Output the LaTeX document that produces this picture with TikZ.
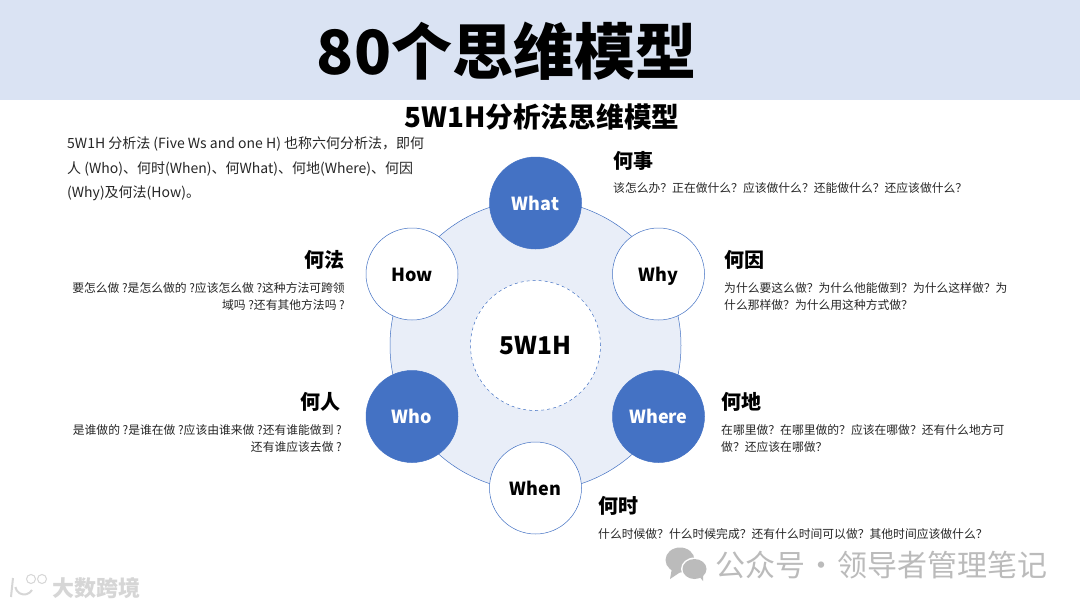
\documentclass[tikz,border=0pt]{standalone}
\usepackage{fontspec}
\setmainfont{Noto Sans CJK SC}
\newcommand{\wideq}{\char"FF1F\relax}
\newcommand{\widec}{\char"FF0C\relax}
\definecolor{bandblue}{HTML}{DAE3F3}
\definecolor{ringblue}{HTML}{E9EEF8}
\definecolor{mainblue}{HTML}{4472C4}
\definecolor{marktext}{HTML}{BBBBBB}
\definecolor{bodytext}{HTML}{262626}
\tikzset{
  spoke/.style={circle,minimum size=92pt,inner sep=0pt,draw=mainblue,line width=0.5pt,text height=14pt,text depth=0pt,font=\fontsize{18}{20}\selectfont\bfseries},
  fullspoke/.style={spoke,fill=mainblue,text=white},
  openspoke/.style={spoke,fill=white,text=black},
  headtext/.style={inner sep=0pt,font=\fontsize{20}{24}\selectfont\bfseries},
  smalltext/.style={inner sep=0pt,text=bodytext,font=\fontsize{11.8}{17}\selectfont},
}
\begin{document}
\begin{tikzpicture}[x=1pt,y=-1pt]
  \useasboundingbox (0,0) rectangle (1080,608);
  \fill[white] (0,0) rectangle (1080,608);
  \fill[bandblue] (0,0) rectangle (1080,100);
  \node[inner sep=0pt,font=\fontsize{61}{70}\selectfont\bfseries] (title) at (506.5,51) {80个思维模型};
  \node[inner sep=0pt,font=\fontsize{27.7}{32}\selectfont\bfseries] (subtitle) at (542,117) {5W1H分析法思维模型};
  \node[inner sep=0pt,anchor=north west,align=left,text=bodytext,font=\fontsize{14}{24.5}\selectfont] (intro) at (67,137)
    {5W1H 分析法 (Five Ws and one H) 也称六何分析法\widec 即何\\人 (Who)、何时(When)、何What)、何地(Where)、何因\\(Why)及何法(How)。};
  % ring and middle
  \node[circle,minimum size=291pt,inner sep=0pt,fill=ringblue,draw=mainblue,line width=0.5pt] (ring) at (535.5,345.5) {};
  \node[circle,minimum size=130pt,inner sep=0pt,fill=white,draw=mainblue,line width=0.5pt,dashed,
    font=\fontsize{24.5}{28}\selectfont\bfseries] (core) at (535.5,345.5) {5W1H};
  \node[fullspoke] (what) at (535.5,203) {What};
  \node[openspoke] (why) at (658.5,274) {Why};
  \node[fullspoke] (where) at (658.5,416.5) {Where};
  \node[openspoke] (when) at (535.5,488) {When};
  \node[fullspoke] (who) at (412,416.5) {Who};
  \node[openspoke] (how) at (412,274) {How};
  % labels
  \node[headtext,anchor=west] (whathead) at (613,161) {何事};
  \node[smalltext,anchor=west] (whatnote) at (613,188) {该怎么办\wideq 正在做什么\wideq 应该做什么\wideq 还能做什么\wideq 还应该做什么\wideq};
  \node[headtext,anchor=west] (whyhead) at (724,259.5) {何因};
  \node[smalltext,anchor=west,align=left] (whynote) at (724,296.5) {为什么要这么做\wideq 为什么他能做到\wideq 为什么这样做\wideq 为\\什么那样做\wideq 为什么用这种方式做\wideq};
  \node[headtext,anchor=west] (wherehead) at (721,402) {何地};
  \node[smalltext,anchor=west,align=left] (wherenote) at (721,438.5) {在哪里做\wideq 在哪里做的\wideq 应该在哪做\wideq 还有什么地方可\\做\wideq 还应该在哪做\wideq};
  \node[headtext,anchor=west] (whenhead) at (598,505.5) {何时};
  \node[smalltext,anchor=west] (whennote) at (598,534) {什么时候做\wideq 什么时候完成\wideq 还有什么时间可以做\wideq 其他时间应该做什么\wideq};
  \node[headtext,anchor=east] (howhead) at (345,259.5) {何法};
  \node[smalltext,anchor=east,align=right] (hownote) at (345,296.5) {要怎么做 ?是怎么做的 ?应该怎么做 ?这种方法可跨领\\域吗 ?还有其他方法吗 ?};
  \node[headtext,anchor=east] (whohead) at (341,402) {何人};
  \node[smalltext,anchor=east,align=right] (whonote) at (342,438.5) {是谁做的 ?是谁在做 ?应该由谁来做 ?还有谁能做到 ?\\还有谁应该去做 ?};
  % marks laid over the slide
  \fill[marktext] (680,560) ellipse (14.5pt and 12.5pt);
  \fill[marktext] (672,568) -- (670,579) -- (682,571) -- cycle;
  \fill[white] (694.5,569) ellipse (13.5pt and 11.5pt);
  \fill[marktext] (694.5,569) ellipse (12pt and 10pt);
  \fill[marktext] (698,575) -- (703,581) -- (703,572) -- cycle;
  \node[inner sep=0pt,anchor=west,text=marktext,font=\fontsize{30}{32}\selectfont] (wechat) at (715,565) {公众号\hspace{1pt}·\hspace{1pt}领导者管理笔记};
  \draw[marktext!60,line width=2pt] (13,578) -- (11,597);
  \draw[marktext!60,line width=2pt] (32,590) arc[start angle=-30,end angle=-170,radius=9pt];
  \draw[marktext!60,line width=1pt] (31,579) circle (4.5pt) (42,579) circle (4.5pt);
  \node[inner sep=0pt,anchor=west,text=marktext!60,font=\fontsize{22}{24}\selectfont\bfseries] (crossmark) at (52,588) {大数跨境};
\end{tikzpicture}
\end{document}
